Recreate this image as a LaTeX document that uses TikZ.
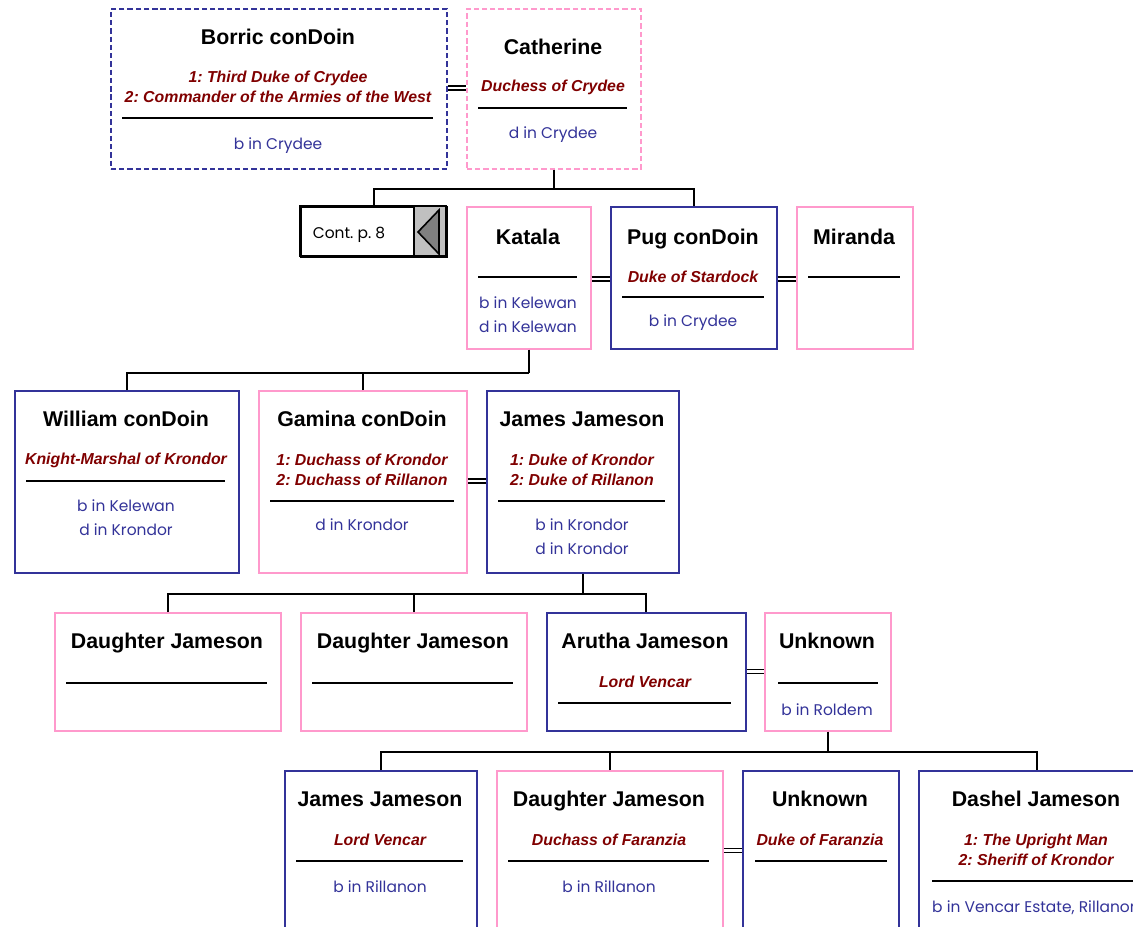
\documentclass[tikz,border=0pt]{standalone}
\usepackage{fontspec}
\setmainfont{Liberation Sans}
\newfontfamily\geo{Poppins}
\usetikzlibrary{calc}
\frenchspacing
\definecolor{navy}{HTML}{333399}
\definecolor{pinkb}{HTML}{FF99CC}
\definecolor{dred}{HTML}{800000}
\definecolor{panelgray}{HTML}{C0C0C0}
\definecolor{trigray}{HTML}{808080}
\tikzset{
  basebox/.style={draw, rectangle, inner sep=0pt, anchor=north west, line width=1.3pt},
  mbox/.style={basebox, draw=navy},
  fbox/.style={basebox, draw=pinkb},
  mboxd/.style={mbox, dash pattern=on 4pt off 2.2pt},
  fboxd/.style={fbox, dash pattern=on 4pt off 2.2pt},
  contbox/.style={basebox, draw=black, line width=1.5pt},
  title/.style={font=\bfseries\fontsize{16}{20}\selectfont, text=black, inner sep=0pt, anchor=base, yshift=-6pt},
  role/.style={font=\bfseries\itshape\fontsize{11.9}{15}\selectfont, text=dred, align=center, inner sep=0pt},
  place/.style={font=\geo\fontsize{11.6}{18}\selectfont, text=navy, align=center, inner sep=0pt},
  rule/.style={line width=1.3pt, black},
  conn/.style={line width=1.5pt, black},
  marry/.style={double=white, double distance=1.9pt, line width=1.1pt, black},
}
\newcommand{\pbox}[6]{\node[#2, minimum width={(#5-#3)*0.75pt}, minimum height={(#6-#4)*0.75pt}] (#1) at (#3,#4) {};}
\begin{document}
\begin{tikzpicture}[x=0.75pt,y=-0.75pt]
\useasboundingbox (0,0) rectangle (1133,926);
\fill[white] (0,0) rectangle (1133,926);
\clip (0,0) rectangle (1133,926);

% Row 1
\pbox{borric}{mboxd}{110}{8}{446}{168}
\node[title] (borric-t) at (278,36) {Borric conDoin};
\node[role] (borric-r) at (278,87) {1: Third Duke of Crydee\\2: Commander of the Armies of the West};
\draw[rule] (122,118) -- (433,118);
\node[place] (borric-p) at (278,146) {b in Crydee};

\pbox{catherine}{fboxd}{466}{8}{640}{168}
\node[title] (catherine-t) at (553,46) {Catherine};
\node[role] (catherine-r) at (553,87) {Duchess of Crydee};
\draw[rule] (478,108) -- (627,108);
\node[place] (catherine-p) at (553,135) {d in Crydee};

% Row 2
\pbox{cont}{contbox}{300}{206}{446}{256}
\fill[panelgray] (414,206) rectangle (446,256);
\draw[line width=1.2pt] (414,206) -- (414,256);
\draw[contbox, anchor=center] (300,206) rectangle (446,256);
\filldraw[fill=trigray, draw=black, line width=1.2pt] (418,232) -- (439,210) -- (439,254) -- cycle;
\node[place, text=black] (cont-t) at (349,235) {Cont. p. 8};

\pbox{katala}{fbox}{466}{206}{590}{348}
\node[title] (katala-t) at (528,236) {Katala};
\draw[rule] (478,277) -- (577,277);
\node[place] (katala-p) at (528,315) {b in Kelewan\\d in Kelewan};

\pbox{pug}{mbox}{610}{206}{776}{348}
\node[title] (pug-t) at (693,236) {Pug conDoin};
\node[role] (pug-r) at (693,277) {Duke of Stardock};
\draw[rule] (622,297) -- (764,297);
\node[place] (pug-p) at (693,323) {b in Crydee};

\pbox{miranda}{fbox}{796}{206}{912}{348}
\node[title] (miranda-t) at (854,236) {Miranda};
\draw[rule] (808,277) -- (900,277);

% Row 3
\pbox{william}{mbox}{14}{390}{238}{572}
\node[title] (william-t) at (126,418) {William conDoin};
\node[role] (william-r) at (126,460) {Knight-Marshal of Krondor};
\draw[rule] (26,481) -- (225,481);
\node[place] (william-p) at (126,517.5) {b in Kelewan\\d in Krondor};

\pbox{gamina}{fbox}{258}{390}{466}{572}
\node[title] (gamina-t) at (362,418) {Gamina conDoin};
\node[role] (gamina-r) at (362,470) {1: Duchass of Krondor\\2: Duchass of Rillanon};
\draw[rule] (270,501) -- (454,501);
\node[place] (gamina-p) at (362,525) {d in Krondor};

\pbox{james}{mbox}{486}{390}{678}{572}
\node[title] (james-t) at (582,418) {James Jameson};
\node[role] (james-r) at (582,470) {1: Duke of Krondor\\2: Duke of Rillanon};
\draw[rule] (498,501) -- (665,501);
\node[place] (james-p) at (582,537) {b in Krondor\\d in Krondor};

% Row 4
\pbox{dau1}{fbox}{54}{612}{280}{730}
\node[title] (dau1-t) at (167,640) {Daughter Jameson};
\draw[rule] (66,683) -- (267,683);

\pbox{dau2}{fbox}{300}{612}{526}{730}
\node[title] (dau2-t) at (413,640) {Daughter Jameson};
\draw[rule] (312,683) -- (513,683);

\pbox{arutha}{mbox}{546}{612}{745}{730}
\node[title] (arutha-t) at (645,640) {Arutha Jameson};
\node[role] (arutha-r) at (645,682) {Lord Vencar};
\draw[rule] (558,703) -- (731,703);

\pbox{unk1}{fbox}{764}{612}{890}{730}
\node[title] (unk1-t) at (827,640) {Unknown};
\draw[rule] (778,683) -- (878,683);
\node[place] (unk1-p) at (827,710) {b in Roldem};

% Row 5
\pbox{james2}{mbox}{284}{770}{476}{960}
\node[title] (james2-t) at (380,798) {James Jameson};
\node[role] (james2-r) at (380,840) {Lord Vencar};
\draw[rule] (296,861) -- (463,861);
\node[place] (james2-p) at (380,887) {b in Rillanon};

\pbox{dau3}{fbox}{496}{770}{722}{960}
\node[title] (dau3-t) at (609,798) {Daughter Jameson};
\node[role] (dau3-r) at (609,840) {Duchass of Faranzia};
\draw[rule] (508,861) -- (709,861);
\node[place] (dau3-p) at (609,887) {b in Rillanon};

\pbox{unk2}{mbox}{742}{770}{898}{960}
\node[title] (unk2-t) at (820,798) {Unknown};
\node[role] (unk2-r) at (820,840) {Duke of Faranzia};
\draw[rule] (755,861) -- (887,861);

\pbox{dashel}{mbox}{918}{770}{1154}{960}
\node[title] (dashel-t) at (1036,798) {Dashel Jameson};
\node[role] (dashel-r) at (1036,850) {1: The Upright Man\\2: Sheriff of Krondor};
\draw[rule] (932,881) -- (1145,881);
\node[place] (dashel-p) at (1036,908) {b in Vencar Estate, Rillanon};

% Marriages
\draw[marry] ($(borric.north east)+(0,80)$) -- ($(catherine.north west)+(0,80)$);
\draw[marry] ($(katala.north east)+(0,73)$) -- ($(pug.north west)+(0,73)$);
\draw[marry] ($(pug.north east)+(0,73)$) -- ($(miranda.north west)+(0,73)$);
\draw[marry] ($(gamina.north east)+(0,91)$) -- ($(james.north west)+(0,91)$);
\draw[marry] ($(arutha.north east)+(0,59.5)$) -- ($(unk1.north west)+(0,59.5)$);
\draw[marry] ($(dau3.north east)+(0,80.5)$) -- ($(unk2.north west)+(0,80.5)$);

% Descent
\coordinate (bus1) at ($(catherine.south)+(0,19)$);
\draw[conn] (catherine.south) -- (bus1);
\draw[conn] (cont.north) |- (bus1) -| (pug.north);

\coordinate (bus2) at ($(katala.south)+(0,23)$);
\draw[conn] (katala.south) -- (bus2);
\draw[conn] (william.north) |- (bus2);
\draw[conn] (gamina.north) -- (gamina.north |- bus2);

\coordinate (bus3) at ($(james.south)+(0,20)$);
\draw[conn] (james.south) -- (bus3);
\draw[conn] (dau1.north) |- (bus3) -| (arutha.north);
\draw[conn] (dau2.north) -- (dau2.north |- bus3);

\coordinate (bus4) at ($(unk1.south)+(0,20)$);
\draw[conn] (unk1.south) -- (bus4);
\draw[conn] (james2.north) |- (bus4) -| (dashel.north);
\draw[conn] (dau3.north) -- (dau3.north |- bus4);
\end{tikzpicture}
\end{document}
